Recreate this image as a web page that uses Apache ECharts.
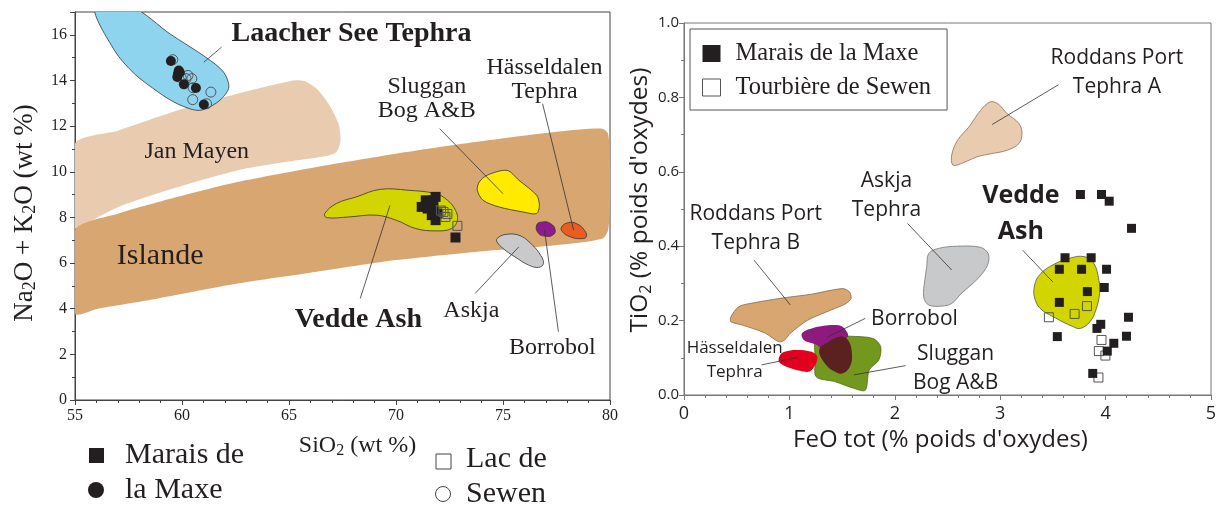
<!DOCTYPE html>
<html>
<head>
<meta charset="utf-8">
<title>Tephra</title>
<script src="https://cdn.jsdelivr.net/npm/echarts@6/dist/echarts.min.js"></script>
<style>
  html, body { margin: 0; padding: 0; background: #fff; }
  #main { width: 1221px; height: 506px; }
</style>
</head>
<body>
<div id="main"></div>
<script>
// ---------- left plot: SiO2 vs Na2O + K2O ----------
// Laacher See tephra (circles)
const tasMaxeCircles = [[59.48,14.85],[59.85,14.44],[59.81,14.29],[59.78,14.15],[59.9,14.35],[60.09,13.83],[60.65,13.67],[61.02,12.95]];
const tasSewenCircles = [[59.57,14.91],[60.28,14.22],[60.46,14.08],[60.19,14.08],[59.96,14.12],[60.52,13.68],[61.35,13.49],[60.5,13.16],[61.15,12.98]];
// Vedde Ash (squares)
const tasMaxeSquares = [[71.85,8.90],[71.39,8.75],[71.2,8.46],[71.57,8.53],[71.6,8.65],[71.75,8.75],[71.76,8.31],[71.67,8.10],[71.85,7.88],[71.94,8.17],[71.48,8.39],[72.78,7.12]];
const tasSewenSquares = [[72.22,8.24],[72.31,8.02],[72.4,8.15],[72.1,8.3],[72.87,7.63]];

// fields
const janMayen = [[55,11.23],[57.04,11.81],[59.81,12.69],[62.59,13.42],[65.19,14.0],[65.74,13.97],[66.30,13.64],[66.85,12.98],[67.31,12.11],[67.41,11.38],[67.22,10.87],[66.67,10.68],[65.37,10.50],[62.59,10.06],[59.81,9.33],[57.04,8.46],[55.19,7.58],[55,7.51]];
const islande = [[55,7.44],[57.04,8.17],[59.81,8.90],[62.59,9.55],[66.30,10.21],[70.0,10.79],[73.70,11.30],[77.41,11.74],[79.63,11.89],[79.91,11.67],[80,10.21],[80,8.75],[79.91,7.44],[79.63,7.07],[77.41,6.78],[73.70,6.49],[70.0,6.13],[66.30,5.62],[62.59,5.10],[58.89,4.45],[56.11,4.01],[55,3.79]];
const laacherSee = [[55.93,17.2],[57.69,17.2],[59.44,16.04],[61.11,15.02],[61.94,14.37],[62.19,13.71],[61.85,13.2],[61.30,12.84],[60.83,12.69],[60.37,12.76],[59.63,13.05],[58.89,13.49],[57.78,14.29],[56.85,15.31]];
const veddeTas = [[66.67,8.17],[67.22,8.61],[68.15,8.90],[69.26,9.23],[70.56,9.19],[71.85,9.04],[72.41,8.75],[72.78,8.31],[72.87,7.88],[72.59,7.51],[71.85,7.41],[70.93,7.51],[70.0,7.88],[69.07,8.10],[67.78,8.02],[66.76,7.99]];
const slugganTas = [[73.89,9.55],[74.26,9.85],[75.19,10.06],[75.74,9.63],[76.57,8.97],[76.70,8.53],[76.57,8.17],[75.93,8.24],[74.81,8.46],[74.07,8.75],[73.80,9.19]];
const askjaTas = [[74.72,7.07],[75.09,7.25],[75.74,7.22],[76.30,6.86],[76.76,6.34],[76.89,5.98],[76.67,5.81],[76.20,5.91],[75.56,6.27],[75.0,6.64],[74.72,6.93]];
const borrobolTas = [[76.57,7.66],[76.85,7.80],[77.22,7.73],[77.44,7.44],[77.31,7.22],[77.0,7.18],[76.67,7.29]];
const hasseldalenTas = [[77.74,7.58],[78.06,7.77],[78.43,7.73],[78.80,7.44],[78.89,7.15],[78.61,7.07],[78.15,7.15],[77.78,7.37]];

const tasNotes = [['Jan Mayen',60.69,10.87],['Sluggan\nBog A&B',71.44,13.2],['Hässeldalen\nTephra',76.94,14.03],['Askja',73.52,3.9],['Borrobol',77.31,2.3]];
const tasBigNotes = [['Islande',58.98,6.3]];
const tasBoldNotes = [['Laacher See Tephra',67.92,16.05],['Vedde Ash',68.24,3.5]];
const tasLeaders = [[61.85,15.46,61.02,14.8],[72.04,11.89,75.0,9.04],[76.85,12.98,78.3,7.44],[68.33,4.45,69.72,8.53],[73.7,4.67,75.74,6.71],[77.59,2.99,76.94,7.44]];

// ---------- right plot: FeO vs TiO2 ----------
const feMaxe = [[3.761,0.539],[3.961,0.539],[4.034,0.521],[4.246,0.448],[3.615,0.369],[3.863,0.369],[3.561,0.338],[3.772,0.338],[4.009,0.338],[3.987,0.289],[3.827,0.278],[3.561,0.249],[4.217,0.209],[3.954,0.190],[3.918,0.179],[3.542,0.157],[4.198,0.158],[4.078,0.139],[4.016,0.118],[3.878,0.058]];
const feSewen = [[3.462,0.209],[3.706,0.218],[3.823,0.239],[3.961,0.148],[3.936,0.118],[3.998,0.106],[3.932,0.047]];

const roddansA = [[2.54,0.645],[2.595,0.685],[2.704,0.721],[2.813,0.765],[2.905,0.788],[2.977,0.783],[3.068,0.756],[3.178,0.730],[3.207,0.703],[3.178,0.676],[3.068,0.658],[2.923,0.649],[2.777,0.640],[2.631,0.622],[2.551,0.618]];
const askjaFe = [[2.321,0.380],[2.413,0.394],[2.595,0.400],[2.813,0.397],[2.886,0.380],[2.886,0.354],[2.832,0.327],[2.741,0.300],[2.631,0.273],[2.540,0.246],[2.449,0.239],[2.321,0.242],[2.274,0.264],[2.285,0.309],[2.303,0.345]];
const roddansB = [[0.445,0.210],[0.518,0.237],[0.627,0.246],[0.918,0.260],[1.210,0.271],[1.501,0.286],[1.567,0.278],[1.585,0.260],[1.538,0.246],[1.392,0.228],[1.173,0.201],[1.009,0.166],[0.955,0.148],[0.900,0.143],[0.773,0.166],[0.554,0.188],[0.445,0.197]];
const slugganFe = [[1.246,0.157],[1.319,0.161],[1.574,0.158],[1.793,0.152],[1.866,0.130],[1.848,0.094],[1.757,0.067],[1.720,0.013],[1.611,0.018],[1.429,0.036],[1.254,0.049],[1.246,0.094]];
const borrobolFe = [[1.119,0.166],[1.210,0.179],[1.392,0.188],[1.501,0.184],[1.556,0.157],[1.429,0.143],[1.319,0.121],[1.265,0.134],[1.137,0.148]];
const overlapFe = [[1.283,0.121],[1.374,0.143],[1.483,0.157],[1.556,0.148],[1.593,0.112],[1.574,0.076],[1.501,0.058],[1.429,0.063],[1.337,0.085]];
const hasseldalenFe = [[0.911,0.107],[0.955,0.116],[1.064,0.121],[1.210,0.116],[1.265,0.103],[1.246,0.081],[1.192,0.063],[1.101,0.065],[0.955,0.078],[0.900,0.090]];
const veddeFe = [[3.360,0.318],[3.469,0.345],[3.652,0.367],[3.797,0.372],[3.888,0.354],[3.936,0.309],[3.943,0.273],[3.907,0.228],[3.852,0.197],[3.761,0.179],[3.688,0.184],[3.506,0.210],[3.378,0.233],[3.324,0.264],[3.324,0.291]];

const feNotes = [['Roddans Port\nTephra A',4.107,0.866],['Askja\nTephra',1.921,0.537],['Roddans Port\nTephra B',0.681,0.4485],['Borrobol',2.187,0.203],['Sluggan\nBog A&B',2.577,0.070]];
const feSmallNotes = [['Hässeldalen\nTephra',0.481,0.094]];
const feBoldNotes = [['Vedde\nAsh',3.196,0.488]];
const feLeaders = [[3.553,0.834,2.923,0.727],[2.121,0.461,2.54,0.336],[3.214,0.389,3.499,0.304],[0.663,0.363,1.009,0.242],[1.72,0.206,1.356,0.155],[0.736,0.081,1.082,0.101],[2.103,0.079,1.611,0.054]];

const SERIF = "'Liberation Serif', 'Times New Roman', serif";
const SANS = "'Open Sans', 'Noto Sans', sans-serif";
const INK = '#231f20';

function polygon(g, pts, fill, stroke, smooth) {
  return {
    type: 'custom', xAxisIndex: g, yAxisIndex: g, silent: true,
    data: [pts[0]],
    renderItem: function (params, api) {
      const c = params.coordSys;
      return {
        type: 'polygon',
        shape: { points: pts.map(function (p) { return api.coord(p); }), smooth: smooth },
        style: { fill: fill, stroke: stroke || null, lineWidth: 0.8 },
        clipPath: { type: 'rect', shape: { x: c.x, y: c.y, width: c.width, height: c.height } }
      };
    }
  };
}

function leaders(g, segs) {
  return {
    type: 'custom', xAxisIndex: g, yAxisIndex: g, silent: true,
    data: segs,
    renderItem: function (params, api) {
      const s = segs[params.dataIndex];
      const a = api.coord([s[0], s[1]]);
      const b = api.coord([s[2], s[3]]);
      return { type: 'line', shape: { x1: a[0], y1: a[1], x2: b[0], y2: b[1] }, style: { stroke: '#333', lineWidth: 0.8 } };
    }
  };
}

function notes(g, list, family, size, weight, lh) {
  return {
    type: 'custom', xAxisIndex: g, yAxisIndex: g, silent: true,
    data: list.map(function (n) { return [n[1], n[2]]; }),
    renderItem: function (params, api) {
      const n = list[params.dataIndex];
      const p = api.coord([n[1], n[2]]);
      return {
        type: 'text', x: p[0], y: p[1],
        style: { text: n[0], fontFamily: family, fontSize: size, fontWeight: weight, lineHeight: lh, fill: INK, align: 'center', verticalAlign: 'middle' }
      };
    }
  };
}

function points(g, name, data, symbol, size, filled) {
  return {
    type: 'scatter', name: name, xAxisIndex: g, yAxisIndex: g, data: data,
    symbol: symbol, symbolSize: size, silent: true,
    itemStyle: filled ? { color: INK, opacity: 1 } : { color: 'rgba(255,255,255,0)', borderColor: '#555', borderWidth: 1, opacity: 1 }
  };
}

function valueAxis(g, min, max, interval, minorSplit, family, size, color, margin, extra) {
  return Object.assign({
    gridIndex: g, type: 'value', min: min, max: max, interval: interval,
    axisLine: { show: true, onZero: false, lineStyle: { color: color, width: 1 } },
    axisTick: { show: true, length: 5, lineStyle: { color: color } },
    minorTick: { show: true, splitNumber: minorSplit, length: 3, lineStyle: { color: color } },
    splitLine: { show: false }, minorSplitLine: { show: false },
    axisLabel: { fontFamily: family, fontSize: size, color: INK, margin: margin }
  }, extra);
}

const chart = echarts.init(document.getElementById('main'));
chart.setOption({
  animation: false,
  backgroundColor: '#fff',
  grid: [
    { left: 75, top: 12, width: 535, height: 388, show: true, borderColor: '#444', borderWidth: 1, containLabel: false, outerBoundsMode: 'none' },
    { left: 684, top: 23, width: 527, height: 372, show: true, borderColor: '#777', borderWidth: 1, containLabel: false, outerBoundsMode: 'none' }
  ],
  xAxis: [
    valueAxis(0, 55, 80, 5, 5, SERIF, 16, '#444', 8, {
      name: 'SiO{s|2} (wt %)', nameLocation: 'middle', nameGap: 33,
      nameTextStyle: { fontFamily: SERIF, fontSize: 24, color: INK, padding: [0, 0, 0, 30],
        rich: { s: { fontFamily: SERIF, fontSize: 16, color: INK, padding: [10, 0, 0, 0] } } }
    }),
    valueAxis(1, 0, 5, 1, 5, SANS, 18, '#777', 10, {
      name: "FeO tot (% poids d'oxydes)", nameLocation: 'middle', nameGap: 31,
      nameTextStyle: { fontFamily: SANS, fontSize: 24, color: INK, padding: [0, 14, 0, 0] }
    })
  ],
  yAxis: [
    valueAxis(0, 0, 17, 2, 2, SERIF, 16, '#444', 8, {
      axisLabel: { fontFamily: SERIF, fontSize: 16, color: INK, margin: 8, showMaxLabel: false },
      name: 'Na{s|2}O + K{s|2}O (wt %)', nameLocation: 'middle', nameGap: 36, nameRotate: 90,
      nameTextStyle: { fontFamily: SERIF, fontSize: 27, color: INK, padding: [0, 14, 0, 0],
        rich: { s: { fontFamily: SERIF, fontSize: 18, color: INK, padding: [11, 0, 0, 0] } } }
    }),
    valueAxis(1, 0, 1, 0.2, 2, SANS, 15, '#777', 5, {
      axisLabel: { fontFamily: SANS, fontSize: 15, color: INK, margin: 5, formatter: function (v) { return v.toFixed(1); } },
      name: "TiO{s|2} (% poids d'oxydes)", nameLocation: 'middle', nameGap: 28, nameRotate: 90,
      nameTextStyle: { fontFamily: SANS, fontSize: 24.5, color: INK, padding: [0, 0, 0, 18],
        rich: { s: { fontFamily: SANS, fontSize: 16, color: INK, padding: [11, 0, 0, 0] } } }
    })
  ],
  legend: {
    orient: 'vertical', left: 690, top: 29,
    data: [
      { name: 'Marais de la Maxe', icon: 'rect', itemStyle: { color: INK } },
      { name: 'Tourbière de Sewen', icon: 'rect', itemStyle: { color: '#fff', borderColor: '#555', borderWidth: 1 } }
    ],
    backgroundColor: '#fff', borderColor: '#555', borderWidth: 1, borderRadius: 0,
    padding: [12, 16, 10, 12], itemWidth: 18, itemHeight: 17, itemGap: 9,
    selectedMode: false,
    textStyle: { fontFamily: SERIF, fontSize: 24.5, color: INK, padding: [0, 0, 0, 10] }
  },
  graphic: [
    { type: 'rect', shape: { x: 89, y: 448, width: 15, height: 15 }, style: { fill: INK } },
    { type: 'text', x: 125, y: 455, style: { text: 'Marais de', fontFamily: SERIF, fontSize: 30, fill: INK, verticalAlign: 'middle' } },
    { type: 'circle', shape: { cx: 96, cy: 490, r: 8 }, style: { fill: INK } },
    { type: 'text', x: 125, y: 490, style: { text: 'la Maxe', fontFamily: SERIF, fontSize: 30, fill: INK, verticalAlign: 'middle' } },
    { type: 'rect', shape: { x: 436, y: 454, width: 15, height: 15 }, style: { fill: '#fff', stroke: '#444', lineWidth: 1 } },
    { type: 'text', x: 466, y: 459, style: { text: 'Lac de', fontFamily: SERIF, fontSize: 30, fill: INK, verticalAlign: 'middle' } },
    { type: 'circle', shape: { cx: 443, cy: 494, r: 7.5 }, style: { fill: '#fff', stroke: '#444', lineWidth: 1 } },
    { type: 'text', x: 466, y: 494, style: { text: 'Sewen', fontFamily: SERIF, fontSize: 30, fill: INK, verticalAlign: 'middle' } }
  ],
  series: [
    // left fields
    polygon(0, janMayen, '#e9ccb0', null, 0.25),
    polygon(0, islande, '#d8a670', null, 0.25),
    polygon(0, laacherSee, '#8fd4ef', '#333', 0.3),
    polygon(0, veddeTas, '#d3d500', '#333', 0.4),
    polygon(0, slugganTas, '#ffea00', '#333', 0.3),
    polygon(0, askjaTas, '#c9c9cb', '#333', 0.4),
    polygon(0, borrobolTas, '#8e1a8c', '#333', 0.5),
    polygon(0, hasseldalenTas, '#e95e1e', '#333', 0.5),
    leaders(0, tasLeaders),
    points(0, 'Sewen circles', tasSewenCircles, 'circle', 10, false),
    points(0, 'Maxe circles', tasMaxeCircles, 'circle', 10, true),
    points(0, 'Maxe squares', tasMaxeSquares, 'rect', 10, true),
    points(0, 'Sewen squares', tasSewenSquares, 'rect', 9, false),
    notes(0, tasNotes, SERIF, 24, 'normal', 24),
    notes(0, tasBigNotes, SERIF, 30, 'normal', 30),
    notes(0, tasBoldNotes, SERIF, 28, 'bold', 28),
    // right fields
    polygon(1, roddansA, '#e9ccb0', '#8a7060', 0.35),
    polygon(1, askjaFe, '#c8c9cb', '#777', 0.35),
    polygon(1, roddansB, '#d8a670', '#8a6a48', 0.3),
    polygon(1, slugganFe, '#72991e', '#4f6a14', 0.3),
    polygon(1, borrobolFe, '#8e1a7e', null, 0.35),
    polygon(1, overlapFe, '#5b2020', null, 0.4),
    polygon(1, hasseldalenFe, '#e1001d', null, 0.35),
    polygon(1, veddeFe, '#d3d500', '#555', 0.4),
    leaders(1, feLeaders),
    points(1, 'Tourbière de Sewen', feSewen, 'rect', 9, false),
    points(1, 'Marais de la Maxe', feMaxe, 'rect', 9, true),
    notes(1, feNotes, SANS, 21, 'normal', 29),
    notes(1, feSmallNotes, SANS, 17, 'normal', 24),
    notes(1, feBoldNotes, SANS, 25, 'bold', 36)
  ]
});
</script>
</body>
</html>
